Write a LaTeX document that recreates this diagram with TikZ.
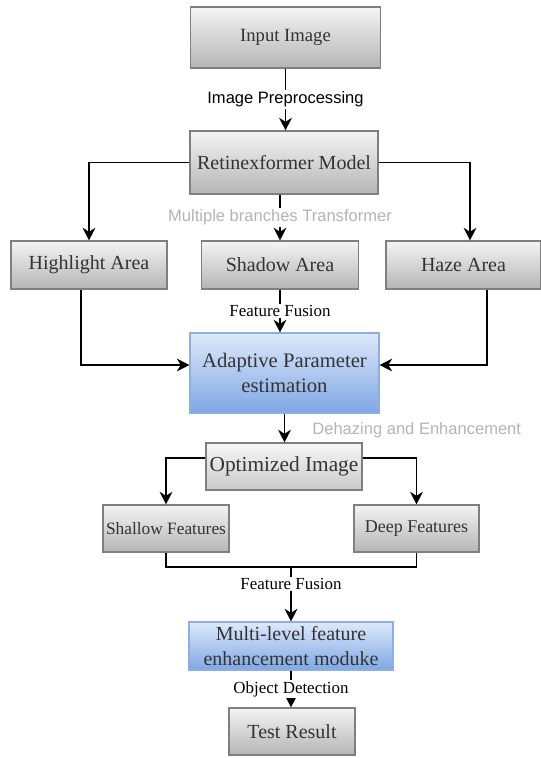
\documentclass[tikz,border=0pt]{standalone}
\usepackage{fontspec}
\setmainfont{Liberation Serif}
\newfontfamily\labelsans{Liberation Sans}
\usepackage{xcolor}
\usetikzlibrary{arrows.meta,calc}

\definecolor{boxtop}{HTML}{F4F4F4}
\definecolor{boxbot}{HTML}{B5B5B5}
\definecolor{boxline}{HTML}{7F7F7F}
\definecolor{bluetop}{HTML}{DDE9FA}
\definecolor{bluebot}{HTML}{7FA7E4}
\definecolor{blueline}{HTML}{8EAEDD}
\definecolor{boxtext}{HTML}{333333}
\definecolor{paletext}{HTML}{B4B4B4}

\begin{document}
\begin{tikzpicture}[
    x=0.75pt, y=-0.75pt,
    graybox/.style={rectangle, draw=boxline, line width=0.8pt, inner sep=0pt,
                    top color=boxtop, bottom color=boxbot, text=boxtext,
                    align=center, font=\fontsize{15}{18.5}\selectfont},
    bluebox/.style={graybox, draw=blueline, top color=bluetop, bottom color=bluebot},
    arrow/.style={-{Stealth[length=9.5pt, width=9.5pt, inset=3pt]}, line width=1.2pt},
    link/.style={line width=1.2pt},
    sanslabel/.style={fill=white, inner sep=1pt, font=\labelsans\fontsize{12.4}{14}\selectfont},
    seriflabel/.style={fill=white, inner sep=1pt, font=\fontsize{12.7}{14}\selectfont}
]
\useasboundingbox (0,0) rectangle (541,758);

\node[graybox, minimum width=142.5pt, minimum height=45.75pt, font=\fontsize{14}{17}\selectfont]
     (input)   at (285.5,37.5) {Input Image};
\node[graybox, minimum width=141pt, minimum height=47.25pt]   (retinex) at (284,162.5) {Retinexformer Model};
\node[graybox, minimum width=117pt, minimum height=36pt]      (high)    at (89,265)    {Highlight Area};
\node[graybox, minimum width=117.75pt, minimum height=36pt]   (shadow)  at (280,265)   {Shadow Area};
\node[graybox, minimum width=116.25pt, minimum height=36pt]   (haze)    at (463.5,265) {Haze Area};
\node[bluebox, minimum width=141.75pt, minimum height=60pt, font=\fontsize{15.5}{18.75}\selectfont]
     (adapt)   at (284.5,373) {Adaptive Parameter\\estimation};
\node[graybox, minimum width=117pt, minimum height=35.25pt, top color=boxtop!80!white, bottom color=boxbot!70!white,
      font=\fontsize{16}{18}\selectfont]
     (optim)   at (284,466.5) {Optimized Image};
\node[graybox, minimum width=94.5pt, minimum height=35.25pt, font=\fontsize{13}{15}\selectfont]
     (shallow) at (166,528.5) {Shallow Features};
\node[graybox, minimum width=93.75pt, minimum height=35.25pt, font=\fontsize{13.5}{15}\selectfont]
     (deep)    at (416.5,528.5) {Deep Features};
\node[bluebox, minimum width=153pt, minimum height=36pt] (multi) at (291,646) {Multi-level feature\\enhancement moduke};
\node[graybox, minimum width=94.5pt, minimum height=35.25pt] (test) at (292,731.5) {Test Result};
\coordinate (join) at (291,567);

\draw[arrow] (input.south) -- node[sanslabel] {Image Preprocessing} (input.south |- retinex.north);
\draw[arrow] (retinex.west) -| (high.north);
\draw[arrow] (retinex.east) -| ($(haze.north)+(6.5,0)$);
\draw[arrow] (retinex.south -| shadow.north) -- node[sanslabel, text=paletext] {Multiple branches Transformer} (shadow.north);
\draw[arrow] (shadow.south) -- node[seriflabel] {Feature Fusion} (shadow.south |- adapt.north);
\draw[arrow] ($(high.south)+(-8,0)$) |- ($(adapt.west)+(0,-8)$);
\draw[arrow] ($(haze.south)+(23.5,0)$) |- ($(adapt.east)+(0,-8)$);
\draw[arrow] (adapt.south) -- node[midway, anchor=west, xshift=17pt, yshift=-2pt, font=\labelsans\fontsize{12.4}{14}\selectfont, text=paletext]
     {Dehazing and Enhancement} (adapt.south |- optim.north);
\draw[arrow] ($(optim.west)+(0,-8.5)$) -| (shallow.north);
\draw[arrow] ($(optim.east)+(0,-8.5)$) -| (deep.north);
\draw[link] (shallow.south) |- (join) -| (deep.south);
\draw[arrow] (join) -- node[seriflabel, pos=0.32] {Feature Fusion} (multi.north);
\draw[arrow] (multi.south) -- node[seriflabel] {Object Detection} (multi.south |- test.north);
\end{tikzpicture}
\end{document}
